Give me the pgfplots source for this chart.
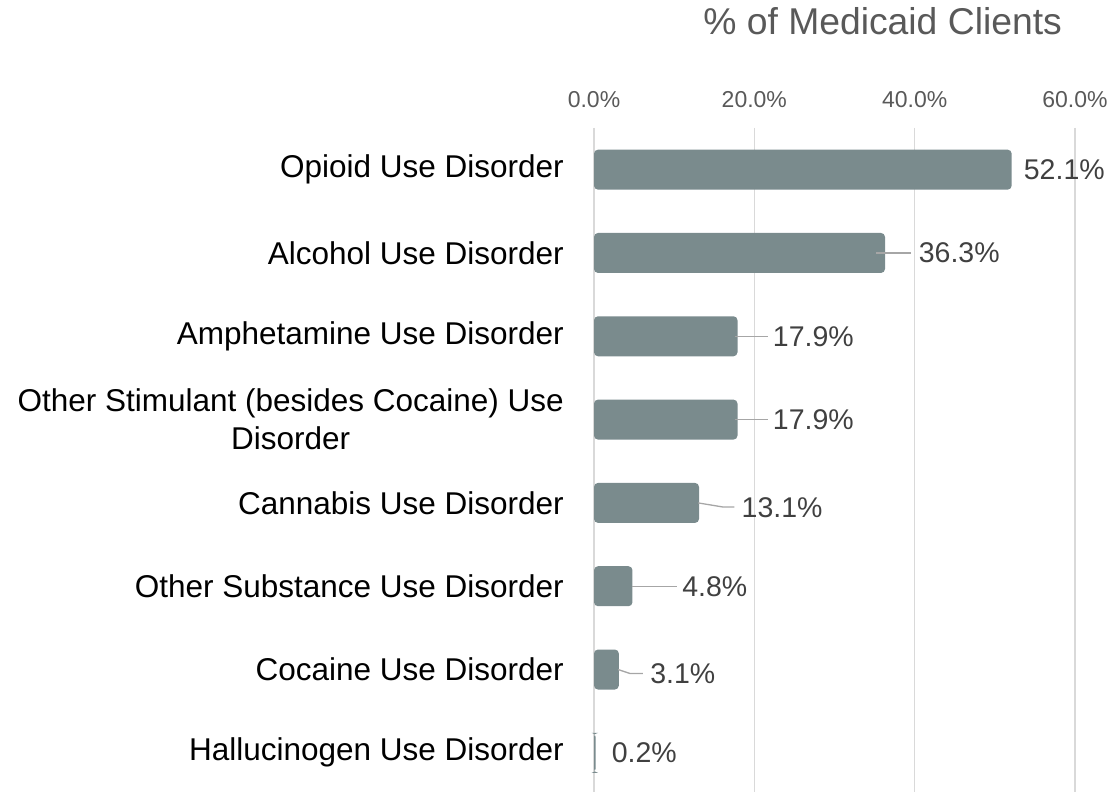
\documentclass[border=0pt]{standalone}
\usepackage{pgfplots}
\pgfplotsset{compat=1.18}
\usepackage{fontspec}
\setmainfont{Liberation Sans}
\definecolor{barc}{HTML}{7A8B8D}
\definecolor{gridc}{HTML}{D9D9D9}
\definecolor{ticktext}{HTML}{595959}
\definecolor{labtext}{HTML}{404040}
\definecolor{leader}{HTML}{A6A6A6}
\pgfplotstableread{
val y
52.1 0
36.3 1
17.9 2
17.9 3
13.1 4
4.8 5
3.1 6
0.2 7
}\bars
\pgfplotstableread{
lx y val
53.6 0 52.1
40.5 1 36.3
22.3 2 17.9
22.3 3 17.9
18.4 4.06 13.1
11.0 5 4.8
7.0 6.05 3.1
2.2 7 0.2
}\labs
\begin{document}
\begin{tikzpicture}
\path[use as bounding box] (0,0) rectangle (1116pt,792pt);
\begin{axis}[
  at={(594pt,0pt)}, anchor=south west, scale only axis,
  width=481pt, height=664pt,
  xmin=0, xmax=60, ymin=-0.5, ymax=7.47, y dir=reverse,
  clip=false,
  /pgf/number format/assume math mode=true,
  xtick={0,20,40,60}, xticklabels={0.0\%,20.0\%,40.0\%,60.0\%},
  xticklabel pos=upper,
  xticklabel style={anchor=base, yshift=20pt, inner sep=0pt, font=\fontsize{23}{27}\selectfont, text=ticktext},
  ytick={0,...,7},
  yticklabels={Opioid Use Disorder, Alcohol Use Disorder, Amphetamine Use Disorder, {Other Stimulant (besides Cocaine) Use\\Disorder}, Cannabis Use Disorder, Other Substance Use Disorder, Cocaine Use Disorder, Hallucinogen Use Disorder},
  yticklabel style={anchor=east, align=center, inner sep=0pt, xshift=-30pt, font=\fontsize{31.5}{38}\selectfont, text=black},
  xmajorgrids, major grid style={gridc, line width=1.5pt},
  axis line style={draw=none}, major tick style={draw=none},
  title={\% of Medicaid Clients},
  title style={at={(axis description cs:0.6,1.1325)}, anchor=base, inner sep=0pt, font=\fontsize{37.3}{40}\selectfont, text=ticktext},
]
\addplot[xbar, bar width=40pt, fill=barc, draw=none, rounded corners=4pt, bar shift=0pt] table[x=val, y=y] {\bars};
\addplot[leader, line width=1.3pt, no markers] coordinates {(35.2,1) (39.5,1)};
\addplot[leader, line width=1.3pt, no markers] coordinates {(17.6,2) (21.7,2)};
\addplot[leader, line width=1.3pt, no markers] coordinates {(17.6,3) (21.7,3)};
\addplot[leader, line width=1.3pt, no markers] coordinates {(13.0,4) (16.0,4.048) (17.5,4.048)};
\addplot[leader, line width=1.3pt, no markers] coordinates {(4.7,5) (10.3,5)};
\addplot[leader, line width=1.3pt, no markers] coordinates {(3.0,6) (4.5,6.048) (6.1,6.048)};
\addplot[only marks, mark=none, point meta=explicit,
  nodes near coords={\pgfmathprintnumber[fixed,fixed zerofill,precision=1]{\pgfplotspointmeta}\%},
  nodes near coords style={anchor=west, inner sep=0pt, font=\fontsize{28.5}{32}\selectfont, text=labtext}]
  table[x=lx, y=y, meta=val] {\labs};
\end{axis}
\end{tikzpicture}
\end{document}
